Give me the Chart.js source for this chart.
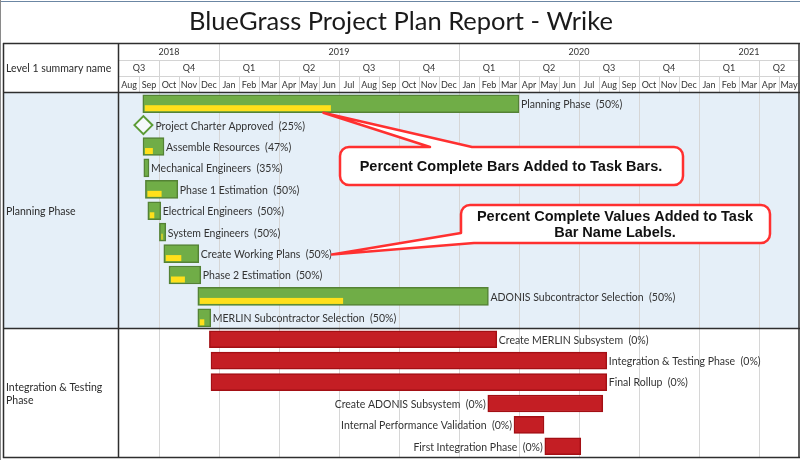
<!DOCTYPE html>
<html>
<head>
<meta charset="utf-8">
<script src="https://cdn.jsdelivr.net/npm/chart.js@4.4.1/dist/chart.umd.min.js"></script>
<style>
  html, body { margin: 0; padding: 0; background: #fff; overflow: hidden; }
  #wrap { width: 800px; height: 460px; position: relative; }
</style>
</head>
<body>
<div id="wrap"><canvas id="gantt"></canvas></div>
<script>
// months counted from 1 Aug 2018 (0) to end of May 2021 (34)
const monthLabels = ['Aug','Sep','Oct','Nov','Dec',
  'Jan','Feb','Mar','Apr','May','Jun','Jul','Aug','Sep','Oct','Nov','Dec',
  'Jan','Feb','Mar','Apr','May','Jun','Jul','Aug','Sep','Oct','Nov','Dec',
  'Jan','Feb','Mar','Apr','May'];
const quarterLabels = ['Q3','Q4','Q1','Q2','Q3','Q4','Q1','Q2','Q3','Q4','Q1','Q2'];
const quarterStart = [-1, 2, 5, 8, 11, 14, 17, 20, 23, 26, 29, 32];
const yearLabels = ['2018','2019','2020','2021'];
const yearStart = [-7, 5, 17, 29];

const taskNames = ['Planning Phase','Project Charter Approved','Assemble Resources','Mechanical Engineers',
  'Phase 1 Estimation','Electrical Engineers','System Engineers','Create Working Plans','Phase 2 Estimation',
  'ADONIS Subcontractor Selection','MERLIN Subcontractor Selection',
  'Create MERLIN Subsystem','Integration & Testing Phase','Final Rollup','Create ADONIS Subsystem',
  'Internal Performance Validation','First Integration Phase'];
const taskStart = [1.19, 1.22, 1.2, 1.24, 1.32, 1.44, 2.02, 2.24, 2.5, 3.94, 3.94,
  4.52, 4.6, 4.6, 18.44, 19.75, 21.29];
const taskEnd = [20.0, 1.22, 2.25, 1.5, 2.94, 2.09, 2.34, 3.99, 4.09, 18.47, 4.59,
  18.89, 24.39, 24.39, 24.19, 21.25, 23.09];
const taskPct = [50, 25, 47, 35, 50, 50, 50, 50, 50, 50, 50, 0, 0, 0, 0, 0, 0];
const taskGroup = ['P','M','P','P','P','P','P','P','P','P','P','I','I','I','I','I','I'];
const labelLeft = [false,false,false,false,false,false,false,false,false,false,false,
  false,false,false,true,true,true];
const groupNames = ['Planning Phase', 'Integration & Testing Phase'];

const MAXM = 34;
const FONT = 'Lato, "Noto Sans", sans-serif';
const LABEL_FONT = '10.5px ' + FONT;

function rangeFor(g) {
  return taskNames.map((n, i) => taskGroup[i] === g ? [taskStart[i], taskEnd[i]] : null);
}

function calloutPath(ctx, x, y, w, h, r, outline) {
  ctx.beginPath();
  outline(ctx, x, y, w, h, r);
  ctx.closePath();
}

const ganttPlugin = {
  id: 'gantt',
  beforeDatasetsDraw(chart) {
    const ctx = chart.ctx;
    const xs = chart.scales.x, ys = chart.scales.y, a = chart.chartArea;
    const band = (ys.getPixelForValue(1) - ys.getPixelForValue(0));
    const splitY = ys.getPixelForValue(10) + band / 2;
    ctx.save();
    ctx.fillStyle = '#fff';
    ctx.fillRect(0, 0, chart.width, chart.height);
    ctx.fillStyle = '#e5eff8';
    ctx.fillRect(3, a.top, a.right - 3, splitY - a.top);
    // quarter grid lines in body
    ctx.strokeStyle = '#d6d6d6';
    ctx.lineWidth = 1;
    quarterStart.forEach(q => {
      if (q <= 0) return;
      const px = Math.round(xs.getPixelForValue(q)) + 0.5;
      ctx.beginPath(); ctx.moveTo(px, a.top); ctx.lineTo(px, a.bottom); ctx.stroke();
    });
    ctx.restore();
  },
  afterDatasetsDraw(chart) {
    const ctx = chart.ctx;
    const xs = chart.scales.x, ys = chart.scales.y, a = chart.chartArea;
    const band = (ys.getPixelForValue(1) - ys.getPixelForValue(0));
    const splitY = ys.getPixelForValue(10) + band / 2;
    const greenMeta = chart.getDatasetMeta(0);
    const redMeta = chart.getDatasetMeta(1);
    const mileMeta = chart.getDatasetMeta(2);
    ctx.save();

    // percent complete bars
    ctx.fillStyle = '#ffe01b';
    greenMeta.data.forEach((el, i) => {
      if (taskGroup[i] !== 'P' || !taskPct[i]) return;
      const left = Math.min(el.x, el.base), w = Math.abs(el.x - el.base);
      const yTop = el.y + 1.5, yBot = el.y + el.height / 2 - 1.5;
      const pw = w * taskPct[i] / 100 - 2;
      if (pw > 0) ctx.fillRect(left + 2, yTop, pw, yBot - yTop);
    });

    // task name labels
    ctx.font = LABEL_FONT;
    ctx.fillStyle = '#333';
    ctx.textBaseline = 'middle';
    taskNames.forEach((name, i) => {
      const txt = name + '  (' + taskPct[i] + '%)';
      let el, x0, x1;
      if (taskGroup[i] === 'M') {
        el = mileMeta.data[0];
        x0 = el.x - 9; x1 = el.x + 10;
      } else {
        el = (taskGroup[i] === 'P' ? greenMeta : redMeta).data[i];
        x0 = Math.min(el.x, el.base); x1 = Math.max(el.x, el.base);
      }
      const yc = ys.getPixelForValue(i) + 1;
      if (labelLeft[i]) {
        ctx.textAlign = 'right';
        ctx.fillText(txt, x0 - 2, yc);
      } else {
        ctx.textAlign = 'left';
        ctx.fillText(txt, x1 + 2, yc);
      }
    });

    // title
    ctx.fillStyle = '#fff';
    ctx.fillRect(0, 0, chart.width, 43);
    ctx.strokeStyle = '#6b86a3';
    ctx.lineWidth = 1;
    ctx.beginPath(); ctx.moveTo(0, 1.5); ctx.lineTo(800, 1.5); ctx.stroke();
    ctx.fillStyle = '#1a1a1a';
    ctx.font = '25.5px ' + FONT;
    ctx.textAlign = 'center';
    ctx.fillText('BlueGrass Project Plan Report - Wrike', 401, 22);

    // header
    const hTop = 43, r1 = 60, r2 = 76, hBot = a.top - 0.5;
    ctx.fillStyle = '#fff';
    ctx.fillRect(3, hTop, 797, hBot - hTop);
    ctx.strokeStyle = '#d4d4d4';
    ctx.lineWidth = 1;
    const vline = (m, yA, yB) => {
      const px = Math.round(xs.getPixelForValue(m)) + 0.5;
      ctx.beginPath(); ctx.moveTo(px, yA); ctx.lineTo(px, yB); ctx.stroke();
    };
    ctx.beginPath();
    ctx.moveTo(a.left, r1 + 0.5); ctx.lineTo(a.right, r1 + 0.5);
    ctx.moveTo(a.left, r2 + 0.5); ctx.lineTo(a.right, r2 + 0.5);
    ctx.stroke();
    monthLabels.forEach((m, i) => { if (i > 0) vline(i, r2, hBot); });
    quarterStart.forEach(q => { if (q > 0) vline(q, r1, r2); });
    yearStart.forEach(y => { if (y > 0) vline(y, hTop, r1); });

    ctx.fillStyle = '#333';
    ctx.textAlign = 'center';
    ctx.font = '9px ' + FONT;
    monthLabels.forEach((m, i) => {
      ctx.fillText(m, xs.getPixelForValue(i + 0.5), (r2 + hBot) / 2 + 0.5);
    });
    quarterLabels.forEach((q, i) => {
      const s = Math.max(0, quarterStart[i]);
      const e = Math.min(MAXM, i + 1 < quarterStart.length ? quarterStart[i + 1] : MAXM);
      ctx.fillText(q, (xs.getPixelForValue(s) + xs.getPixelForValue(e)) / 2, (r1 + r2) / 2 + 0.5);
    });
    yearLabels.forEach((y, i) => {
      const s = Math.max(0, yearStart[i]);
      const e = Math.min(MAXM, i + 1 < yearStart.length ? yearStart[i + 1] : MAXM);
      ctx.fillText(y, (xs.getPixelForValue(s) + xs.getPixelForValue(e)) / 2, (hTop + r1) / 2 + 0.5);
    });

    // left column text
    ctx.textAlign = 'left';
    ctx.fillStyle = '#2b2b2b';
    ctx.font = LABEL_FONT;
    ctx.fillText('Level 1 summary name', 6, (hTop + hBot) / 2 + 1);
    ctx.fillText(groupNames[0], 6, (a.top + splitY) / 2 + 1);
    ctx.fillText('Integration & Testing', 6, (splitY + a.bottom) / 2 - 5);
    ctx.fillText('Phase', 6, (splitY + a.bottom) / 2 + 8);

    // frame lines
    ctx.strokeStyle = '#2e2e2e';
    ctx.lineWidth = 1.5;
    ctx.beginPath();
    ctx.moveTo(3.5, hTop); ctx.lineTo(3.5, a.bottom + 1);
    ctx.moveTo(a.left - 0.5, hTop); ctx.lineTo(a.left - 0.5, a.bottom + 1);
    ctx.moveTo(3, hTop + 0.5); ctx.lineTo(800, hTop + 0.5);
    ctx.moveTo(3, hBot); ctx.lineTo(800, hBot);
    ctx.moveTo(3, splitY); ctx.lineTo(800, splitY);
    ctx.moveTo(3, a.bottom + 0.5); ctx.lineTo(800, a.bottom + 0.5);
    ctx.moveTo(799, hTop); ctx.lineTo(799, a.bottom + 1);
    ctx.stroke();
    ctx.strokeStyle = '#8a8a8a';
    ctx.lineWidth = 1;
    ctx.beginPath(); ctx.moveTo(0.5, 0); ctx.lineTo(0.5, 460); ctx.stroke();

    // callouts
    ctx.lineWidth = 2.5;
    ctx.strokeStyle = '#ff3030';
    ctx.fillStyle = '#fff';
    ctx.lineJoin = 'round';
    // callout 1 - pointer to the yellow bar of Planning Phase
    const pp = greenMeta.data[0];
    const tip1x = Math.min(pp.x, pp.base) + Math.abs(pp.x - pp.base) * 0.48;
    const tip1y = pp.y + 9;
    calloutPath(ctx, 340, 147, 343, 38, 9, (c, x, y, w, h, r) => {
      c.moveTo(x + r, y);
      c.lineTo(430, y);
      c.lineTo(tip1x, tip1y);
      c.lineTo(472, y);
      c.arcTo(x + w, y, x + w, y + h, r);
      c.arcTo(x + w, y + h, x, y + h, r);
      c.arcTo(x, y + h, x, y, r);
      c.arcTo(x, y, x + w, y, r);
    });
    ctx.fill(); ctx.stroke();
    // callout 2 - pointer to the label of Create Working Plans
    const cw = greenMeta.data[7];
    ctx.font = LABEL_FONT;
    const tip2x = Math.max(cw.x, cw.base) + 2 + ctx.measureText(taskNames[7] + '  (50%)').width;
    const tip2y = ys.getPixelForValue(7) + 1;
    calloutPath(ctx, 461, 205, 309, 38, 9, (c, x, y, w, h, r) => {
      c.moveTo(x + r, y);
      c.arcTo(x + w, y, x + w, y + h, r);
      c.arcTo(x + w, y + h, x, y + h, r);
      c.lineTo(474, y + h);
      c.lineTo(tip2x, tip2y);
      c.lineTo(x, y + h - 10);
      c.arcTo(x, y, x + w, y, r);
    });
    ctx.fill(); ctx.stroke();

    ctx.fillStyle = '#111';
    ctx.font = 'bold 14.5px "Liberation Sans", Arial, sans-serif';
    ctx.textAlign = 'center';
    ctx.fillText('Percent Complete Bars Added to Task Bars.', 511, 167);
    ctx.fillText('Percent Complete Values Added to Task', 615, 217);
    ctx.fillText('Bar Name Labels.', 615, 233);
    ctx.restore();
  }
};

new Chart(document.getElementById('gantt'), {
  type: 'bar',
  data: {
    labels: taskNames,
    datasets: [
      {
        label: 'Planning',
        data: rangeFor('P'),
        grouped: false,
        barThickness: 18,
        backgroundColor: '#70ad47',
        borderColor: '#548235',
        borderWidth: 1.5,
        borderSkipped: false
      },
      {
        label: 'Integration',
        data: rangeFor('I'),
        grouped: false,
        barThickness: 17,
        backgroundColor: '#c41e24',
        borderColor: '#a30f14',
        borderWidth: 1.5,
        borderSkipped: false
      },
      {
        type: 'line',
        label: 'Milestone',
        data: taskNames.map((n, i) => taskGroup[i] === 'M' ? { x: taskStart[i], y: n } : null).filter(Boolean),
        showLine: false,
        pointStyle: 'rectRot',
        pointRadius: 9,
        pointHoverRadius: 9,
        borderColor: '#5b9b35',
        backgroundColor: 'rgba(255,255,255,0.6)',
        borderWidth: 2
      }
    ]
  },
  options: {
    indexAxis: 'y',
    responsive: true,
    maintainAspectRatio: false,
    animation: false,
    devicePixelRatio: 1,
    layout: { autoPadding: false, padding: { left: 119, right: 1, top: 93, bottom: 3 } },
    scales: {
      x: { type: 'linear', min: 0, max: MAXM, display: false },
      y: { type: 'category', display: false, offset: true }
    },
    plugins: {
      legend: { display: false },
      tooltip: { enabled: false }
    }
  },
  plugins: [ganttPlugin]
});
</script>
</body>
</html>
